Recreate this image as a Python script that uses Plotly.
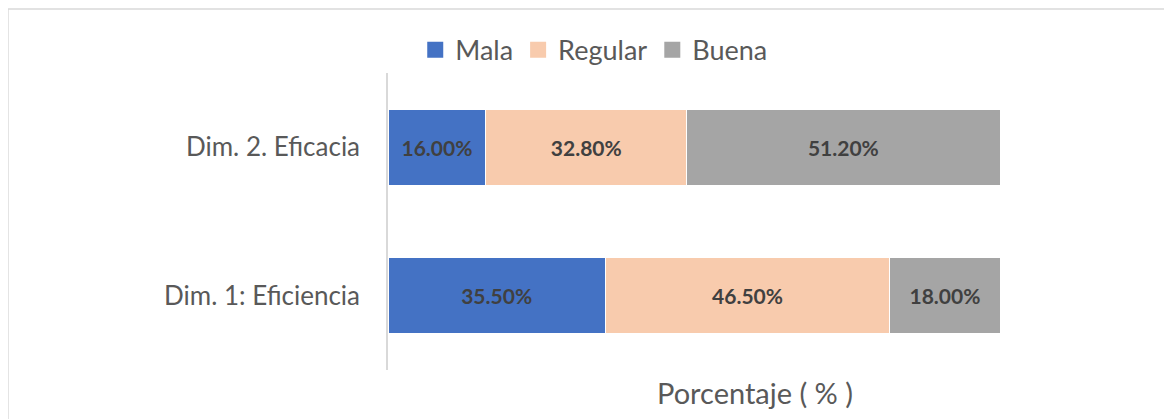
import plotly.graph_objects as go

categories = ["Dim. 1: Eficiencia", "Dim. 2. Eficacia"]
mala = [35.5, 16.0]
regular = [46.5, 32.8]
buena = [18.0, 51.2]
series_names = ["Mala", "Regular", "Buena"]
colors = ["#4472C4", "#F8CBAD", "#A5A5A5"]

fig = go.Figure()
for name, vals, col in zip(series_names, [mala, regular, buena], colors):
    fig.add_trace(go.Bar(
        y=categories, x=vals, name=name, orientation="h",
        marker=dict(color=col, line=dict(color="white", width=1)),
        width=0.514, legendgroup=name, showlegend=False,
        texttemplate="<b>%{x:.2f}%</b>", textposition="inside",
        insidetextanchor="middle",
        textfont=dict(color="#404040", size=21, family="Lato"),
        hoverinfo="skip",
    ))
# legend entries with larger square swatches
for name, col in zip(series_names, colors):
    fig.add_trace(go.Scatter(
        x=[None], y=[None], mode="markers", name=name, legendgroup=name,
        marker=dict(symbol="square", size=17, color=col), hoverinfo="skip",
    ))

# page body has an 8px margin, so layout is sized/offset to compensate
fig.update_layout(
    barmode="stack",
    width=1164, height=411,
    margin=dict(l=380, r=172, t=65, b=49),
    paper_bgcolor="white", plot_bgcolor="white",
    font=dict(family="Lato", color="#595959"),
    showlegend=True,
    legend=dict(orientation="h", x=0.337, xanchor="center", y=1.077, yanchor="middle",
                font=dict(size=27, color="#595959"), traceorder="normal",
                itemwidth=30, itemsizing="trace"),
    xaxis=dict(range=[0, 100], showticklabels=False, showgrid=False, zeroline=False,
               showline=False, fixedrange=True),
    yaxis=dict(range=[-0.5, 1.5], showgrid=False, zeroline=False, showline=True,
               linecolor="#D9D9D9", linewidth=1.5, ticks="", ticklabelstandoff=21,
               tickfont=dict(size=26, color="#595959")),
    uniformtext=dict(minsize=10, mode="show"),
)

fig.add_annotation(text="Porcentaje ( % )", xref="paper", yref="paper",
                   x=0.6, y=-0.077, xanchor="center", yanchor="middle",
                   showarrow=False, font=dict(size=29, color="#595959"))

fig.add_shape(type="rect", xref="paper", yref="paper",
              x0=-0.621, x1=1.2696, y0=-0.17, y1=1.2155,
              line=dict(color="#D9D9D9", width=1.5), fillcolor="rgba(0,0,0,0)")

fig.write_html("out.html")
